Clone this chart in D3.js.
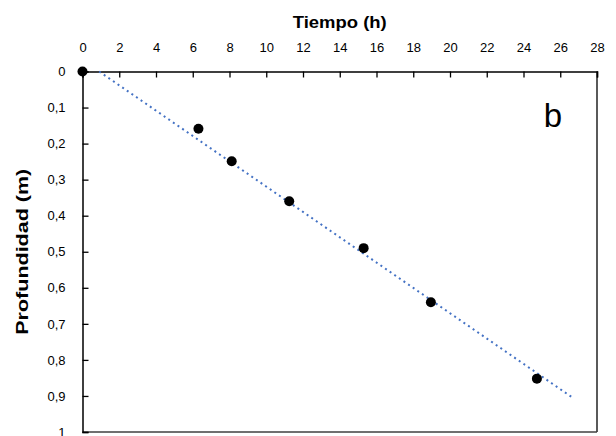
<!DOCTYPE html>
<html>
<head>
<meta charset="utf-8">
<script src="https://cdn.jsdelivr.net/npm/d3@7"></script>
<style>
  body { margin: 0; background: #fff; }
  svg text { font-family: "Liberation Sans", Arial, sans-serif; fill: #000; }
</style>
</head>
<body>
<div id="chart"></div>
<script>
// measured points
const tiempo = [0, 6.31, 8.12, 11.25, 15.3, 18.96, 24.73];
const profundidad = [0, 0.159, 0.249, 0.36, 0.49, 0.64, 0.852];
const xTicks = [0, 2, 4, 6, 8, 10, 12, 14, 16, 18, 20, 22, 24, 26, 28];
const yTicks = [0, 0.1, 0.2, 0.3, 0.4, 0.5, 0.6, 0.7, 0.8, 0.9, 1];
const trendForward = 26.6; // trendline drawn up to this time

const width = 616, height = 436;
const margin = { top: 71.5, right: 19, bottom: 4, left: 82.5 };

const svg = d3.select("#chart").append("svg")
    .attr("width", width)
    .attr("height", height);

const x = d3.scaleLinear().domain([0, 28]).range([margin.left, width - margin.right]);
const y = d3.scaleLinear().domain([0, 1]).range([margin.top, height - margin.bottom]);

const fmt = d => d3.format(".1~f")(d).replace(".", ",");

// plot area frame (right and bottom)
svg.append("line")
    .attr("x1", x(28)).attr("x2", x(28))
    .attr("y1", y(0)).attr("y2", y(1))
    .attr("stroke", "#000").attr("stroke-width", 1.3);
svg.append("line")
    .attr("x1", x(0)).attr("x2", x(28))
    .attr("y1", y(1)).attr("y2", y(1))
    .attr("stroke", "#404040").attr("stroke-width", 1.3);

// top axis
const xAxis = svg.append("g")
    .attr("transform", `translate(0,${y(0)})`)
    .call(d3.axisTop(x).tickValues(xTicks).tickSize(-6).tickPadding(19.5).tickFormat(d3.format("d")));
xAxis.select(".domain").attr("stroke", "#000").attr("stroke-width", 1.5);
xAxis.selectAll(".tick line").attr("stroke", "#000").attr("stroke-width", 1.3);
xAxis.selectAll("text").attr("font-size", 13);

// left axis
const yAxis = svg.append("g")
    .attr("transform", `translate(${x(0)},0)`)
    .call(d3.axisLeft(y).tickValues(yTicks).tickSize(-6).tickPadding(17).tickFormat(fmt));
yAxis.select(".domain").attr("stroke", "#000").attr("stroke-width", 1.5);
yAxis.selectAll(".tick line").attr("stroke", "#000").attr("stroke-width", 1.3);
yAxis.selectAll("text").attr("font-size", 13);

// titles
svg.append("text")
    .attr("x", (x(0) + x(28)) / 2).attr("y", 27.5)
    .attr("text-anchor", "middle")
    .attr("font-size", 17).attr("font-weight", "bold")
    .attr("textLength", 94).attr("lengthAdjust", "spacingAndGlyphs")
    .text("Tiempo (h)");
svg.append("text")
    .attr("transform", `translate(28,${(y(0) + y(1)) / 2}) rotate(-90)`)
    .attr("text-anchor", "middle")
    .attr("font-size", 17).attr("font-weight", "bold")
    .attr("textLength", 166).attr("lengthAdjust", "spacingAndGlyphs")
    .text("Profundidad (m)");

svg.append("text")
    .attr("x", 553).attr("y", 127)
    .attr("text-anchor", "middle")
    .attr("font-size", 33)
    .text("b");

// linear trendline (least squares)
const mx = d3.mean(tiempo), my = d3.mean(profundidad);
const sxy = d3.sum(tiempo, (t, i) => (t - mx) * (profundidad[i] - my));
const sxx = d3.sum(tiempo, t => (t - mx) * (t - mx));
const slope = sxy / sxx;
const intercept = my - slope * mx;
const tStart = Math.max(0, -intercept / slope);
const trend = [tStart, trendForward].map(t => ({ t: t, p: intercept + slope * t }));

svg.append("path")
    .datum(trend)
    .attr("d", d3.line().x(d => x(d.t)).y(d => y(d.p)))
    .attr("fill", "none")
    .attr("stroke", "#4472C4")
    .attr("stroke-width", 2)
    .attr("stroke-dasharray", "2 3.6");

// points
svg.selectAll(".pt")
    .data(tiempo.map((t, i) => ({ t: t, p: profundidad[i] })))
    .enter().append("circle")
    .attr("class", "pt")
    .attr("cx", d => x(d.t))
    .attr("cy", d => y(d.p))
    .attr("r", 5)
    .attr("fill", "#000");
</script>
</body>
</html>
